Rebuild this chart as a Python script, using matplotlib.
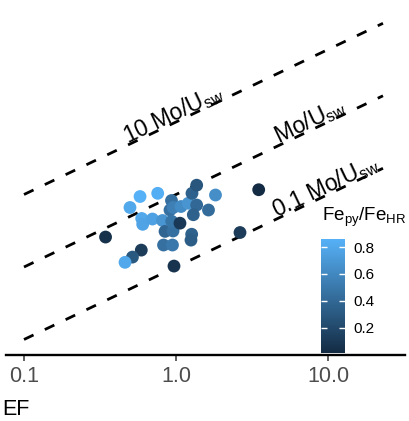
import numpy as np
import matplotlib
matplotlib.use("Agg")
import matplotlib.pyplot as plt
from matplotlib.colors import LinearSegmentedColormap, Normalize

plt.rcParams['font.family'] = ['Liberation Sans', 'DejaVu Sans']
plt.rcParams['mathtext.fontset'] = 'custom'
plt.rcParams['mathtext.rm'] = 'Liberation Sans'
plt.rcParams['mathtext.it'] = 'Liberation Sans:italic'

# U enrichment factor (x), Mo enrichment factor (y), Fe_py/Fe_HR (colour)
u_ef = [0.344, 0.580, 0.758, 0.498, 0.595, 0.604, 0.700, 0.815, 0.934, 0.913,
        0.960, 1.079, 1.205, 1.274, 1.368, 1.368, 1.300, 1.636, 1.819, 0.847,
        0.956, 0.937, 1.268, 1.255, 0.828, 0.948, 0.591, 0.517, 0.462, 0.970,
        2.637, 3.500, 1.062]
mo_ef = [0.259, 0.938, 1.039, 0.662, 0.467, 0.388, 0.459, 0.438, 0.826, 0.611,
         0.662, 0.683, 0.757, 1.039, 1.344, 0.716, 0.526, 0.611, 0.984, 0.310,
         0.314, 0.427, 0.283, 0.235, 0.201, 0.201, 0.171, 0.137, 0.116, 0.103,
         0.299, 1.164, 0.402]
fe_py_hr = [0.05, 0.86, 0.84, 0.80, 0.80, 0.78, 0.76, 0.68, 0.45, 0.45,
            0.55, 0.62, 0.68, 0.35, 0.28, 0.40, 0.35, 0.42, 0.64, 0.38,
            0.45, 0.48, 0.35, 0.33, 0.45, 0.50, 0.12, 0.30, 0.80, 0.06,
            0.12, 0.01, 0.10]

# seawater Mo/U reference lines
line_ratios = [10, 1, 0.1]
line_labels = ['10 Mo/U$_{\\mathrm{sw}}$', 'Mo/U$_{\\mathrm{sw}}$', '0.1 Mo/U$_{\\mathrm{sw}}$']
label_x = [1.0, 8.0, 10.0]
line_x = np.array([0.1, 23.0])

xticks = [0.1, 1.0, 10.0]
xticklabels = ['0.1', '1.0', '10.0']
cbar_ticks = [0.2, 0.4, 0.6, 0.8]

cmap = LinearSegmentedColormap.from_list('gg', ['#132B43', '#56B1F7'])
norm = Normalize(vmin=min(fe_py_hr), vmax=max(fe_py_hr))

fig = plt.figure(figsize=(4.10, 4.21), dpi=100)
ax = fig.add_axes([6 / 410, 1 - 355 / 421, 399 / 410, 355 / 421])
ax.set_xscale('log')
ax.set_yscale('log')
ax.set_xlim(10 ** -1.1184, 10 ** 1.5066)
ax.set_ylim(10 ** -2.2138, 10 ** 2.683)

for r, lab, lx in zip(line_ratios, line_labels, label_x):
    ax.plot(line_x, r * line_x, color='black', lw=2.0, dashes=(3.8, 4.5))
    ax.text(lx, r * lx * 1.06, lab, rotation=25.5, rotation_mode='anchor',
            ha='center', va='baseline', fontsize=16.5, color='black')

ax.scatter(u_ef, mo_ef, c=fe_py_hr, cmap=cmap, norm=norm, s=85,
           edgecolors='none', zorder=3)

for side in ['top', 'right', 'left']:
    ax.spines[side].set_visible(False)
ax.spines['bottom'].set_linewidth(1.7)
ax.spines['bottom'].set_color('black')
ax.set_yticks([])
ax.yaxis.set_minor_locator(matplotlib.ticker.NullLocator())
ax.set_xticks(xticks)
ax.set_xticklabels(xticklabels)
ax.tick_params(axis='x', length=4, width=1.3, color='#555555', pad=4,
               labelsize=15.5, labelcolor='#4D4D4D')
ax.xaxis.set_minor_locator(matplotlib.ticker.NullLocator())

fig.text(2 / 410, 1 - 415 / 421, 'EF', ha='left', va='baseline',
         fontsize=15.5, color='black')

# colour bar placed inside the panel
cax = fig.add_axes([321 / 410, 1 - 353 / 421, 24 / 410, 114 / 421])
sm = matplotlib.cm.ScalarMappable(norm=norm, cmap=cmap)
cb = fig.colorbar(sm, cax=cax, ticks=cbar_ticks)
cb.outline.set_visible(False)
cb.ax.tick_params(direction='in', length=4, width=1, color='white',
                  left=True, right=True, labelsize=11, pad=6)
cb.ax.set_yticklabels([f'{t:.1f}' for t in cbar_ticks])
fig.text(322 / 410, 1 - 221 / 421, 'Fe$_{\\mathrm{py}}$/Fe$_{\\mathrm{HR}}$',
         ha='left', va='baseline', fontsize=13.5)

fig.savefig('out.png', dpi=100)
